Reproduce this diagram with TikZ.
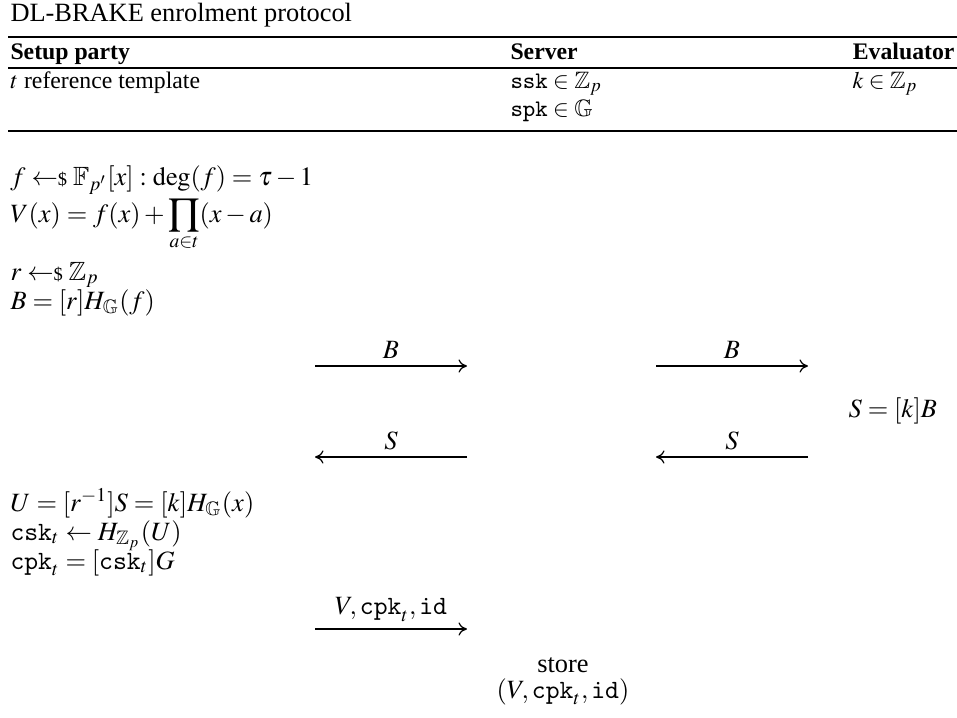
\documentclass[tikz,border=0pt]{standalone}
\usepackage{amsmath,amssymb}
\usepackage{mathptmx}
\usepackage[no-math]{fontspec}
\setmainfont{Liberation Serif}
\usetikzlibrary{arrows.meta,positioning}
\newcommand{\smp}{\mathrel{\leftarrow\!\!\mbox{\scriptsize\$}}}

\begin{document}
\begin{tikzpicture}[x=0.379pt,y=-0.379pt,
    txt/.style={anchor=base west,inner sep=0pt},
    txtr/.style={anchor=base east,inner sep=0pt},
    cell/.style={txt,font=\small},
    msg/.style={-{To[length=3.2pt,width=5pt]},line width=0.45pt},
    rulew/.style={line width=0.5pt}]
    \useasboundingbox (0,0) rectangle (957,717);
    % title and table head
    \node[txt] (title) at (10,21) {DL-BRAKE enrolment protocol};
    \draw[rulew] (8,37) -- (957,37);
    \node[cell,font=\small\bfseries] (setup) at (10,59) {Setup party};
    \node[cell,font=\small\bfseries] (server) at (510,59) {Server};
    \node[txtr,font=\small\bfseries] (evaluator) at (955,59) {Evaluator};
    \draw[rulew] (8,68) -- (957,68);
    \node[cell] (tmpl) at (10,88) {$t$ reference template};
    \node[cell] (ssk) at (510,88) {$\mathtt{ssk}\in\mathbb{Z}_p$};
    \node[cell] (kev) at (852,88) {$k\in\mathbb{Z}_p$};
    \node[cell] (spk) at (510,116) {$\mathtt{spk}\in\mathbb{G}$};
    \draw[rulew] (8,131) -- (957,131);
    % setup party computations
    \node[txt] (fpoly) at (10,185) {$f \smp \mathbb{F}_{p'}[x] : \deg(f) = \tau - 1$};
    \node[txt] (vpoly) at (10,222) {$\displaystyle V(x) = f(x) + \prod_{a\in t}(x-a)$};
    \node[txt] (rnd) at (10,280) {$r \smp \mathbb{Z}_p$};
    \node[txt] (blind) at (10,309) {$B = [r]H_{\mathbb{G}}(f)$};
    % blinded value out and back
    \coordinate (bA0) at (315,366);
    \coordinate (bA1) at (467,366);
    \coordinate (bB0) at (656,366);
    \coordinate (bB1) at (808,366);
    \draw[msg] (bA0) -- (bA1) node[midway,above,inner sep=2.5pt] {$B$};
    \draw[msg] (bB0) -- (bB1) node[midway,above,inner sep=2.5pt] {$B$};
    \node[txt] (eval) at (848,417) {$S = [k]B$};
    \coordinate (sA0) at (467,457);
    \coordinate (sA1) at (315,457);
    \coordinate (sB0) at (808,457);
    \coordinate (sB1) at (656,457);
    \draw[msg] (sA0) -- (sA1) node[midway,above,inner sep=2.5pt] {$S$};
    \draw[msg] (sB0) -- (sB1) node[midway,above,inner sep=2.5pt] {$S$};
    % unblind and derive keys
    \node[txt] (unbl) at (10,511) {$U = [r^{-1}]S = [k]H_{\mathbb{G}}(x)$};
    \node[txt] (csk) at (10,540) {$\mathtt{csk}_t \leftarrow H_{\mathbb{Z}_p}(U)$};
    \node[txt] (cpk) at (10,569) {$\mathtt{cpk}_t = [\mathtt{csk}_t]G$};
    \coordinate (vA0) at (315,629);
    \coordinate (vA1) at (467,629);
    \draw[msg] (vA0) -- (vA1) node[midway,above,inner sep=2.5pt] {$V, \mathtt{cpk}_t, \mathtt{id}$};
    \node[anchor=base,inner sep=0pt] (store) at (563,672) {store};
    \node[anchor=base,inner sep=0pt] (record) at (563,698) {$(V, \mathtt{cpk}_t, \mathtt{id})$};
  \end{tikzpicture}
\end{document}
